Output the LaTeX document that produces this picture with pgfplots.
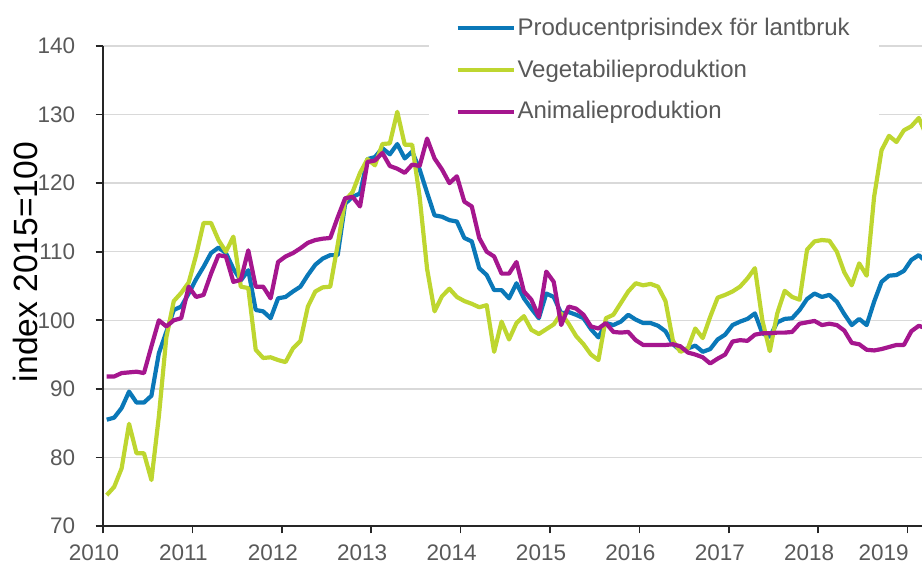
\documentclass[border=0pt]{standalone}
\usepackage{fontspec}
\setmainfont{Liberation Sans}
\usepackage{pgfplots}
\pgfplotsset{compat=1.18}
\usepackage{pgfplotstable}
\definecolor{cblue}{HTML}{0A78B8}
\definecolor{cgreen}{HTML}{BED630}
\definecolor{cmag}{HTML}{A5168E}
\definecolor{ctext}{HTML}{595959}
\definecolor{cgrid}{HTML}{D9D9D9}

\pgfplotstableread{
m B G M
0 85.5 74.5 91.8
1 85.8 75.7 91.8
2 87.2 78.4 92.3
3 89.6 84.9 92.4
4 88.0 80.6 92.5
5 88.0 80.6 92.3
6 89.0 76.7 96.2
7 95.2 86.0 100.0
8 98.3 97.5 99.1
9 101.5 102.8 100.0
10 102.0 104.0 100.3
11 103.9 105.5 104.9
12 106.0 109.5 103.4
13 107.8 114.2 103.7
14 109.8 114.2 106.8
15 110.6 111.7 109.5
16 109.8 110.0 109.3
17 107.5 112.2 105.6
18 105.8 104.9 105.9
19 107.3 104.7 110.2
20 101.5 95.7 104.9
21 101.3 94.5 104.9
22 100.3 94.6 103.2
23 103.2 94.2 108.5
24 103.4 93.9 109.3
25 104.2 95.9 109.8
26 104.9 97.0 110.5
27 106.6 102.0 111.3
28 108.1 104.2 111.7
29 109.0 104.8 111.9
30 109.5 104.9 112.0
31 109.5 111.0 115.0
32 117.0 117.5 117.8
33 118.0 118.7 118.0
34 118.5 121.5 116.6
35 123.5 123.5 123.1
36 123.8 122.6 123.3
37 125.1 125.7 124.4
38 124.2 125.8 122.5
39 125.7 130.4 122.1
40 123.6 125.6 121.5
41 124.6 125.6 122.7
42 122.0 118.0 122.5
43 118.6 107.5 126.5
44 115.3 101.3 123.6
45 115.1 103.5 122.0
46 114.6 104.6 120.0
47 114.4 103.4 121.0
48 112.0 102.8 117.3
49 111.5 102.4 116.6
50 107.6 101.9 112.0
51 106.6 102.2 110.0
52 104.4 95.4 109.3
53 104.4 99.8 106.8
54 103.2 97.2 106.8
55 105.4 99.6 108.5
56 103.2 100.6 104.2
57 101.7 98.6 103.0
58 100.3 98.0 100.5
59 103.9 98.7 107.1
60 103.4 99.4 105.6
61 101.0 101.0 99.3
62 101.2 99.5 102.0
63 100.8 97.7 101.7
64 100.3 96.5 100.8
65 98.7 95.0 99.1
66 97.5 94.2 98.8
67 99.6 100.3 99.6
68 99.3 100.8 98.3
69 99.8 102.5 98.2
70 100.8 104.2 98.3
71 100.1 105.4 97.1
72 99.6 105.1 96.4
73 99.6 105.3 96.4
74 99.2 104.9 96.4
75 98.4 102.8 96.4
76 96.5 97.0 96.5
77 95.6 95.4 96.2
78 95.9 95.9 95.3
79 96.3 98.8 95.0
80 95.4 97.4 94.6
81 95.8 100.5 93.7
82 97.2 103.3 94.4
83 97.9 103.7 95.0
84 99.3 104.2 96.9
85 99.8 104.9 97.1
86 100.2 106.1 97.0
87 101.0 107.6 97.9
88 98.1 100.0 98.1
89 97.6 95.5 98.1
90 99.7 101.0 98.2
91 100.2 104.3 98.2
92 100.3 103.4 98.3
93 101.5 103.0 99.5
94 103.1 110.3 99.7
95 103.9 111.5 99.9
96 103.4 111.7 99.3
97 103.7 111.6 99.5
98 102.7 110.0 99.3
99 100.9 107.0 98.5
100 99.3 105.1 96.7
101 100.2 108.3 96.5
102 99.3 106.5 95.7
103 102.7 118.0 95.6
104 105.6 124.8 95.8
105 106.5 126.9 96.1
106 106.6 126.0 96.4
107 107.2 127.7 96.4
108 108.8 128.3 98.4
109 109.5 129.5 99.2
110 108.5 127.0 98.8
}\data

\begin{document}
\begin{tikzpicture}
\begin{axis}[
  name=ax,
  scale only axis, width=409.5bp, height=240bp,
  xmin=0, xmax=109.93, ymin=70, ymax=140,
  axis x line*=bottom, axis y line*=left,
  axis line style={black!85, line width=0.8bp},
  xtick={0,12,24,36,48,60,72,84,96},
  xticklabels={2010,2011,2012,2013,2014,2015,2016,2017,2018},
  extra x ticks={108}, extra x tick labels={2019},
  extra x tick style={xticklabel style={xshift=-7.5bp}},
  ytick={70,80,90,100,110,120,130,140},
  ymajorgrids, grid style={cgrid, line width=0.7bp},
  tick align=outside, major tick length=3.7bp,
  tick style={black!85, line width=0.8bp},
  /pgf/number format/assume math mode=true,
  xticklabel style={font=\fontsize{11.25bp}{13bp}\selectfont, text=ctext, inner ysep=0.3bp, xshift=-4.5bp, yshift=-5.4bp},
  yticklabel style={font=\fontsize{11.25bp}{13bp}\selectfont, text=ctext, xshift=-6.7bp},
  ylabel={index 2015=100},
  ylabel style={font=\fontsize{16.8bp}{19bp}\selectfont, text=black, at={(axis description cs:-0.0952,0.55)}, anchor=center},
  legend cell align=left,
  legend image code/.code={\draw[#1, line width=2bp] (0bp,0bp) -- (28bp,0bp);},
  legend style={at={(rel axis cs:0.397,1.0754)}, anchor=north west, draw=none, fill=white,
    font=\fontsize{12bp}{14bp}\selectfont, text=ctext,
    inner xsep=13.5bp, inner ysep=3bp, row sep=8.65bp,
    nodes={inner xsep=1bp, inner ysep=1bp}},
  every axis plot/.append style={line width=2.1bp, line join=round},
]
\addplot[cblue] table[x expr=\thisrow{m}+0.5, y=B] {\data};
\addlegendentry{Producentprisindex för lantbruk}
\addplot[cgreen] table[x expr=\thisrow{m}+0.5, y=G] {\data};
\addlegendentry{Vegetabilieproduktion}
\addplot[cmag] table[x expr=\thisrow{m}+0.5, y=M] {\data};
\addlegendentry{Animalieproduktion}
\end{axis}
\pgfresetboundingbox
\path[use as bounding box] ([xshift=-51.5bp, yshift=-20bp]ax.south west) rectangle ([yshift=23bp]ax.north east);
\end{tikzpicture}
\end{document}
